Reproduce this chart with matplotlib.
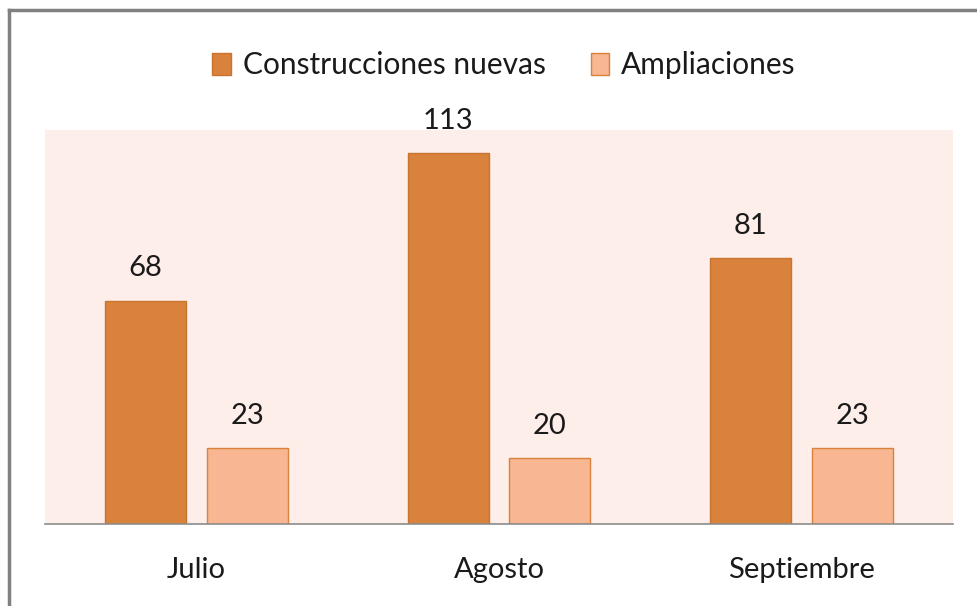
import matplotlib.pyplot as plt
import numpy as np
from matplotlib.lines import Line2D

months = ["Julio", "Agosto", "Septiembre"]
nuevas = [68, 113, 81]
ampliaciones = [23, 20, 23]
series_names = ["Construcciones nuevas", "Ampliaciones"]

plt.rcParams['font.family'] = ['Lato', 'DejaVu Sans']

fig = plt.figure(figsize=(9.78, 6.06), dpi=100)
ax = fig.add_axes([45 / 978, 82 / 606, 908 / 978, 394 / 606])
ax.set_facecolor('#FDEEE9')

x = np.arange(len(months))
w = 0.267
off = 0.168
b1 = ax.bar(x - off, nuevas, w, color='#D9823B', edgecolor='#C8732F', linewidth=1, label=series_names[0])
b2 = ax.bar(x + off, ampliaciones, w, color='#F8B692', edgecolor='#D9823B', linewidth=1, label=series_names[1])

for bars in (b1, b2):
    for r in bars:
        ax.annotate(f"{int(r.get_height())}", (r.get_x() + r.get_width() / 2, r.get_height()),
                    xytext=(0, 14), textcoords='offset points', ha='center', va='bottom',
                    fontsize=21, color='#1a1a1a')

ax.set_xlim(-0.5, 2.5)
ax.set_ylim(0, 120)
ax.set_yticks([])
ax.set_xticks(x)
ax.set_xticklabels(months, fontsize=21, color='#1a1a1a')
ax.tick_params(axis='x', length=0, pad=24)
for s in ['top', 'right', 'left']:
    ax.spines[s].set_visible(False)
ax.spines['bottom'].set_color('#8c8c8c')
ax.spines['bottom'].set_linewidth(1.2)

fig.legend(loc='center', bbox_to_anchor=(504 / 978, 1 - 65 / 606), ncol=2, frameon=False,
           fontsize=21.5, handlelength=0.62, handleheight=0.75, handletextpad=0.4,
           columnspacing=1.5, labelcolor='#1a1a1a')

# frame of the screenshot
fig.add_artist(Line2D([8.5 / 978, 1], [1 - 9.5 / 606] * 2, color='#808080', lw=2.5, transform=fig.transFigure))
fig.add_artist(Line2D([8.5 / 978] * 2, [0, 1 - 9.5 / 606], color='#808080', lw=2.5, transform=fig.transFigure))

fig.savefig('out.png', dpi=100)
